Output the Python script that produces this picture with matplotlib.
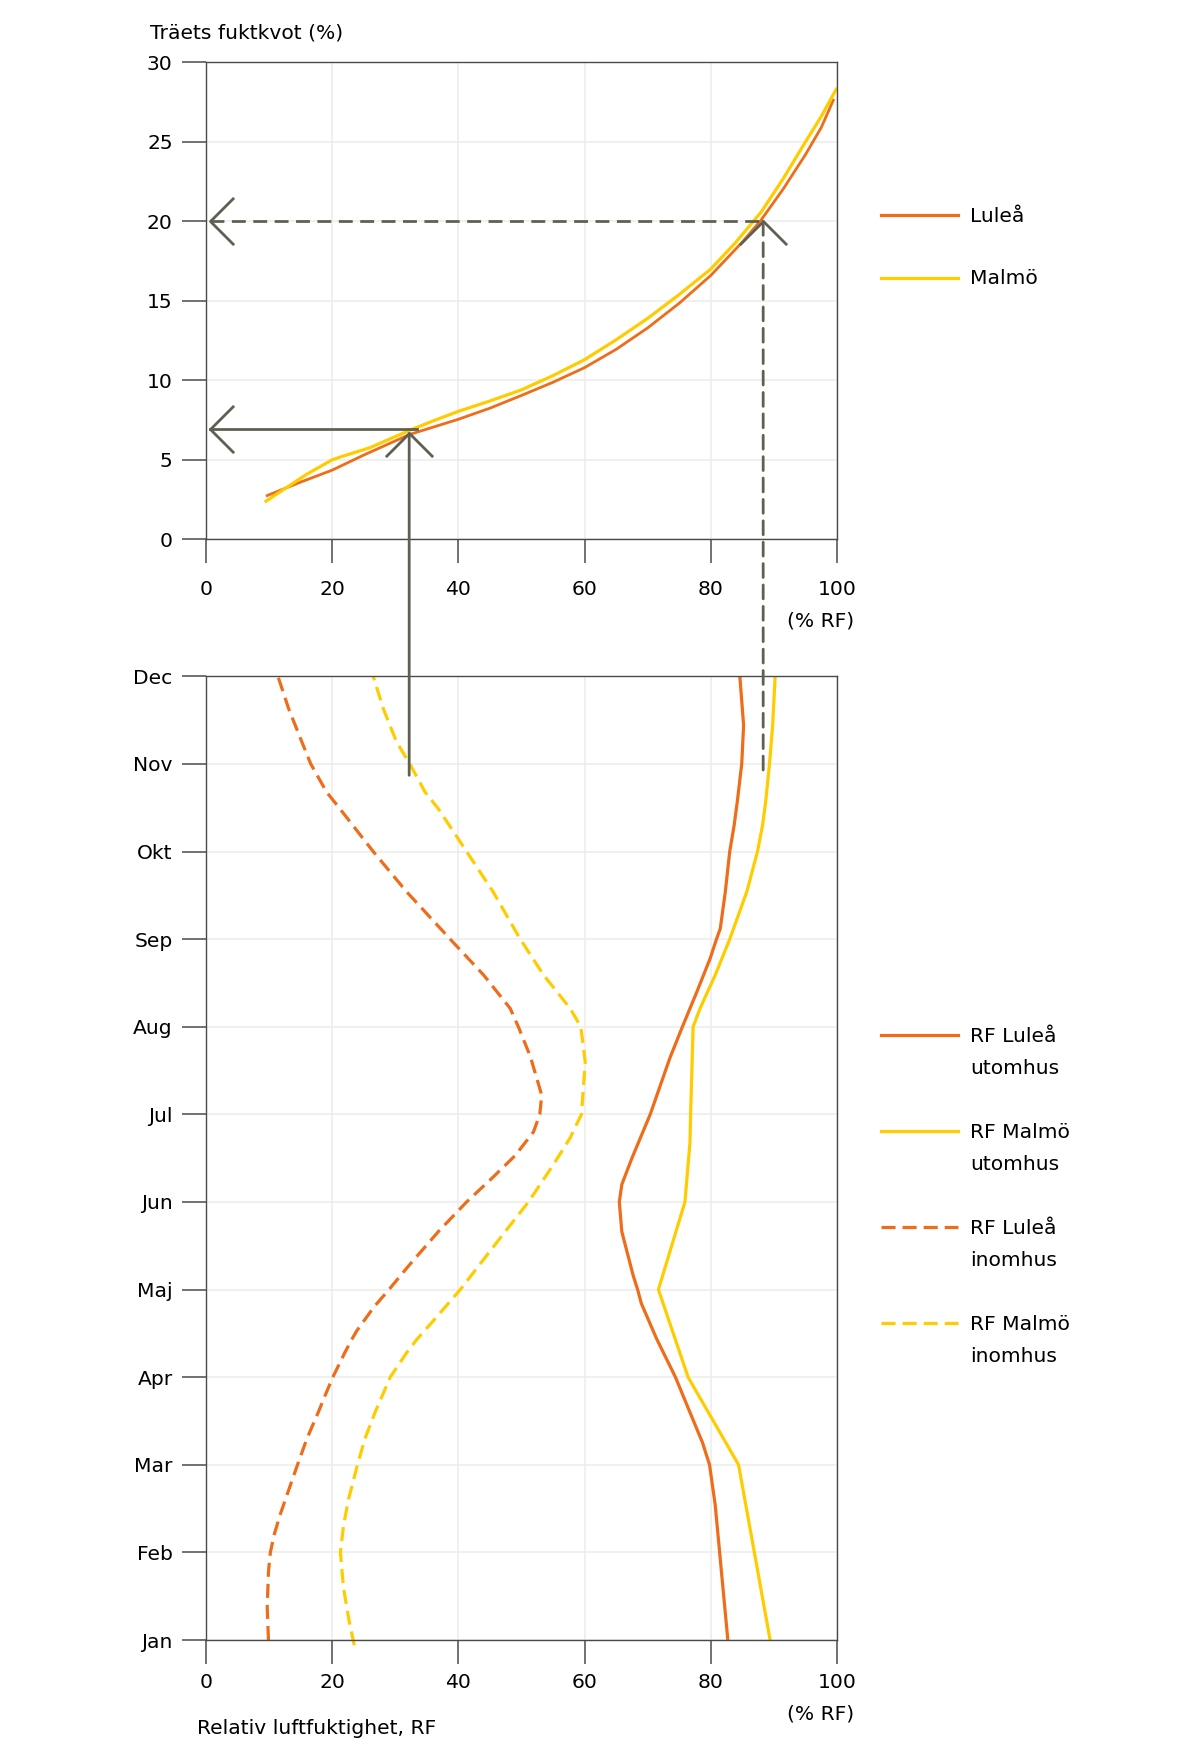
import numpy as np
import matplotlib
matplotlib.use('Agg')
import matplotlib.pyplot as plt
from matplotlib.lines import Line2D
from matplotlib.patches import ConnectionPatch
from matplotlib.path import Path

# Sorption curves: wood moisture content (%) vs relative humidity (% RF)
sorp_rf_lulea = [9.5, 15, 20, 25, 32.3, 40, 45, 50, 55, 60, 65, 70, 75, 80, 85, 88, 91.5, 95,
                 97.5, 99.5]
sorp_mc_lulea = [2.72, 3.6, 4.35, 5.3, 6.6, 7.55, 8.25, 9.05, 9.88, 10.8, 11.95, 13.3, 14.85,
                 16.6, 18.7, 20.1, 22.05, 24.2, 25.9, 27.7]
sorp_rf_malmo = [9.3, 12.7, 16, 20, 21.7, 25.9, 32.3, 36, 40, 45, 50, 55, 60, 65, 70, 75, 80,
                 84, 88, 91.5, 95, 97.5, 100]
sorp_mc_malmo = [2.34, 3.24, 4.1, 5.0, 5.23, 5.75, 6.86, 7.45, 8.05, 8.7, 9.4, 10.3, 11.3, 12.55,
                 13.9, 15.4, 17.0, 18.7, 20.6, 22.7, 25.0, 26.6, 28.4]

# Yearly RF, position along the year (0 = Jan, 11 = Dec)
months = ['Jan', 'Feb', 'Mar', 'Apr', 'Maj', 'Jun', 'Jul', 'Aug', 'Sep', 'Okt', 'Nov', 'Dec']

lulea_out_t = [0, 1, 1.54, 2, 2.25, 2.65, 3, 3.44, 3.84, 4, 4.16, 4.66, 5.0, 5.2, 5.5, 6, 6.64,
               7, 7.4, 7.78, 8, 8.12, 8.54, 9, 9.3, 9.57, 10, 10.44, 11]
lulea_out_rf = [82.7, 81.4, 80.7, 79.8, 78.7, 76.4, 74.4, 71.4, 69.0, 68.4, 67.7, 65.9, 65.5, 65.9,
                67.5, 70.4, 73.5, 75.5, 77.8, 79.9, 80.9, 81.5, 82.3, 83.0, 83.7, 84.2, 84.9, 85.2, 84.6]

malmo_out_t = [0, 2, 3, 4, 5, 5.68, 6, 7, 7.21, 7.59, 8, 8.16, 8.54, 9, 9.3, 9.57, 10, 10.44, 11]
malmo_out_rf = [89.4, 84.4, 76.4, 71.7, 75.9, 76.7, 76.8, 77.2, 78.3, 80.7, 83.0, 83.8, 85.7,
                87.4, 88.2, 88.7, 89.3, 89.8, 90.2]

lulea_in_t = [0, 0.37, 0.78, 1.0, 1.2, 1.42, 1.69, 2.0, 2.3, 2.6, 2.83, 3.0, 3.28, 3.43, 3.53, 3.8,
              4.0, 4.27, 4.66, 5.0, 5.27, 5.53, 5.8, 6.0, 6.22, 6.66, 7.0, 7.21, 7.59, 8.0, 8.54,
              9.0, 9.49, 9.68, 10.0, 10.25, 10.63, 11.0]
lulea_in_rf = [9.9, 9.7, 9.9, 10.2, 10.8, 11.7, 13.0, 14.5, 16.0, 17.8, 19.1, 20.1, 22.0, 23.1,
               23.9, 26.6, 29.0, 32.1, 36.8, 41.3, 45.3, 49.0, 51.9, 52.9, 53.2, 51.4, 49.5, 48.2,
               44.0, 38.7, 31.8, 26.5, 21.2, 19.1, 16.6, 15.2, 13.1, 11.4]

malmo_in_t = [-0.06, 0.21, 0.59, 1.0, 1.31, 1.61, 2.0, 2.3, 2.6, 3.0, 3.28, 3.43, 3.65, 4.0, 4.27,
              4.66, 5.0, 5.42, 5.73, 6.0, 6.6, 7.0, 7.21, 7.59, 8.0, 8.54, 9.0, 9.49, 9.68, 10.0,
              10.25, 10.63, 11.0]
malmo_in_rf = [23.5, 22.7, 21.8, 21.3, 21.8, 22.6, 24.0, 25.2, 26.8, 29.2, 31.8, 33.4, 36.1, 40.3,
               43.2, 47.4, 51.1, 55.0, 57.7, 59.5, 60.1, 59.4, 57.7, 53.5, 49.8, 45.5, 41.3, 36.8,
               34.7, 32.3, 30.2, 28.1, 26.5]

# Read-off example: RF -> moisture content, starting from the month curves
read_rf = [32.2, 88.3]
read_mc = [6.96, 20.0]
read_t = 9.87

ORANGE = '#ee6c1a'
YELLOW = '#ffcc00'
ARROW = '#606052'
GRID = '#ececea'
SPINE = '#4a4a4a'
FS = 14.6

W, H = 1200, 1747
fig = plt.figure(figsize=(W / 100, H / 100), dpi=100)


def fx(px):
    return px / W


def fy(py):
    return 1 - py / H


def style_axes(ax, xpad):
    for s in ax.spines.values():
        s.set_color(SPINE)
        s.set_linewidth(1.0)
    ax.tick_params(length=17, width=1.1, color=SPINE, labelsize=FS, labelcolor='black')
    ax.tick_params(axis='x', pad=xpad)
    ax.tick_params(axis='y', pad=7)
    ax.grid(True, color=GRID, linewidth=1.1)
    ax.set_axisbelow(True)


# ---- top: sorption curve
ax1 = fig.add_axes([fx(206), fy(539.3), fx(837 - 206), (539.3 - 62.4) / H])
style_axes(ax1, 12)
ax1.plot(sorp_rf_lulea, sorp_mc_lulea, color=ORANGE, lw=2.0, solid_capstyle='butt')
ax1.plot(sorp_rf_malmo, sorp_mc_malmo, color=YELLOW, lw=2.3, solid_capstyle='butt')
ax1.set_xlim(0, 100)
ax1.set_ylim(0, 30)
ax1.set_xticks(range(0, 101, 20))
ax1.set_yticks(range(0, 31, 5))

# ---- bottom: RF over the year
ax2 = fig.add_axes([fx(206), fy(1640), fx(837 - 206), (1640 - 676.3) / H])
style_axes(ax2, 7)
dash = (0, (4.4, 2.2))
ax2.plot(lulea_out_rf, lulea_out_t, color=ORANGE, lw=2.3)
ax2.plot(malmo_out_rf, malmo_out_t, color=YELLOW, lw=2.3)
ax2.plot(lulea_in_rf, lulea_in_t, color=ORANGE, lw=2.3, ls=dash, clip_on=False)
ax2.plot(malmo_in_rf, malmo_in_t, color=YELLOW, lw=2.3, ls=dash, clip_on=False)
ax2.set_xlim(0, 100)
ax2.set_ylim(0, 11)
ax2.set_xticks(range(0, 101, 20))
ax2.set_yticks(range(12))
ax2.set_yticklabels(months)

# ---- read-off arrows
chev_left = Path([(1, 1), (0, 0), (1, -1)], [Path.MOVETO, Path.LINETO, Path.LINETO])
chev_up = Path([(-1, -1), (0, 0), (1, -1)], [Path.MOVETO, Path.LINETO, Path.LINETO])
arrow_dash = (0, (5, 2.7))
styles = ['-', arrow_dash]
for rf, mc, ls in zip(read_rf, read_mc, styles):
    x_end = rf + 1.3 if ls == '-' else rf
    tip = mc - 0.3 if ls == '-' else mc
    ax1.plot([0.6, x_end], [mc, mc], color=ARROW, lw=2.0, ls=ls, clip_on=False)
    ax1.plot([0.6], [mc], marker=chev_left, ms=34, mfc='none', mec=ARROW, mew=2.0,
             ls='none', clip_on=False)
    ax1.plot([rf], [tip], marker=chev_up, ms=34, mfc='none', mec=ARROW, mew=2.0,
             ls='none', clip_on=False)
    con = ConnectionPatch(xyA=(rf, tip), coordsA=ax1.transData,
                          xyB=(rf, read_t), coordsB=ax2.transData,
                          color=ARROW, lw=2.0, ls=ls)
    fig.add_artist(con)

# ---- texts
fig.text(fx(150), fy(33), 'Träets fuktkvot (%)', fontsize=FS, va='center', ha='left')
fig.text(fx(854), fy(621), '(% RF)', fontsize=FS, va='center', ha='right')
fig.text(fx(854), fy(1714), '(% RF)', fontsize=FS, va='center', ha='right')
fig.text(fx(197), fy(1729), 'Relativ luftfuktighet, RF', fontsize=FS, va='center', ha='left')


# ---- legends (drawn by hand to match the layout)
def legend_entry(y, color, ls, lines):
    fig.add_artist(Line2D([fx(881), fx(958)], [fy(y), fy(y)], color=color, lw=2.3, ls=ls))
    for i, t in enumerate(lines):
        fig.text(fx(970), fy(y + 1 + 32 * i), t, fontsize=FS, va='center', ha='left')


legend_entry(215, ORANGE, '-', ['Luleå'])
legend_entry(278, YELLOW, '-', ['Malmö'])
legend_entry(1035, ORANGE, '-', ['RF Luleå', 'utomhus'])
legend_entry(1131, YELLOW, '-', ['RF Malmö', 'utomhus'])
legend_entry(1227, ORANGE, dash, ['RF Luleå', 'inomhus'])
legend_entry(1323, YELLOW, dash, ['RF Malmö', 'inomhus'])

fig.savefig('out.png', dpi=100, facecolor='white')
